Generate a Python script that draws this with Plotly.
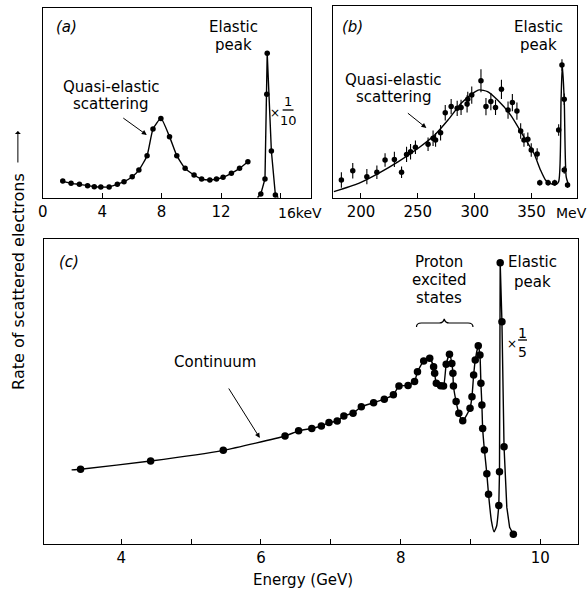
import plotly.graph_objects as go

W, H = 588, 592

# ---------------- data ----------------
# (a) keV
a_x = [1.35, 1.91, 2.47, 3.02, 3.47, 3.91, 4.47, 5.02, 5.47, 6.02, 6.47, 7.02, 7.42, 7.95,
       8.53, 9.02, 9.58, 10.18, 10.69, 11.24, 11.69, 12.13, 12.69, 13.24, 13.8]
a_y = [8.9, 7.7, 7.2, 6.5, 5.9, 5.8, 5.8, 7.2, 8.6, 11.2, 14.7, 22.3, 36.3, 41.9,
       32.3, 22.3, 15.6, 12.1, 10.0, 9.5, 10.0, 10.9, 13.0, 15.6, 19.1]
a_el_x = [14.67, 14.95, 15.07, 15.1, 15.38, 15.65]
a_el_y = [2.1, 10.0, 54.6, 76.2, 24.7, 1.6]
a_el_line_x = [14.45, 14.67, 14.95, 15.07, 15.1, 15.38, 15.65, 15.85]
a_el_line_y = [0.3, 2.1, 10.0, 54.6, 76.2, 24.7, 1.6, 0.3]

# (b) MeV
b_x = [182.8, 192.8, 205.2, 214.0, 221.2, 229.4, 235.7, 240.1, 243.6, 247.9, 259.0, 263.4,
       265.6, 270.0, 274.1, 279.3, 284.6, 288.0, 293.3, 293.9, 297.4, 305.5, 309.9, 314.2,
       318.3, 323.5, 329.3, 333.1, 337.1, 340.4, 343.3, 346.7, 349.7, 354.9, 357.2, 364.5,
       370.3, 373.8, 376.7, 378.7, 378.7, 381.6]
b_y = [9.4, 14.2, 11.1, 13.4, 19.8, 20.1, 13.4, 22.7, 24.1, 26.4, 28.0, 31.1,
       30.2, 34.0, 44.4, 47.6, 46.7, 47.2, 49.0, 51.4, 53.6, 61.1, 47.6, 50.2,
       47.2, 56.6, 45.8, 49.7, 45.3, 34.9, 30.2, 30.6, 25.0, 22.9, 8.0, 8.0,
       8.0, 35.4, 69.3, 51.4, 14.6, 6.8]
b_err = [4, 4, 4, 3.5, 3.5, 4, 3, 4, 4, 3.5, 3.5, 4,
         3.5, 4, 4, 4, 4, 4, 4.5, 4, 4.5, 6, 4.5, 4.5,
         4, 5, 4.5, 4.5, 4.5, 4, 3.5, 3.5, 3.5, 3, 1.5, 1.5,
         1.5, 3, 3, 3, 2, 1.5]
b_fit_x = [176.2, 198.0, 215.4, 232.9, 250.3, 264.8, 276.5, 288.1, 298.3, 304.0, 311.3,
           320.1, 331.6, 343.2, 352.0, 357.8, 362.2, 366.5, 370.9, 373.8, 375.9, 377.0,
           378.7, 380.4, 382.5]
b_fit_y = [3.3, 7.6, 12.8, 18.9, 25.9, 32.8, 40.6, 49.3, 54.5, 56.3, 55.4,
           51.0, 43.2, 31.9, 23.3, 14.6, 9.4, 7.6, 6.8, 8.5, 51.0, 69.3,
           51.0, 11.1, 6.8]

# (c) GeV
c_x = [3.418, 4.421, 5.461, 6.345, 6.539, 6.728, 6.865, 6.974, 7.092, 7.187, 7.319, 7.437,
       7.613, 7.766, 7.896, 7.976, 8.106, 8.199, 8.241, 8.330, 8.416, 8.472, 8.487, 8.511,
       8.572, 8.614, 8.652, 8.699, 8.733, 8.748, 8.756, 8.794, 8.833, 8.889, 8.993, 9.021,
       9.045, 9.068, 9.111, 9.135, 9.149, 9.163, 9.174, 9.199, 9.234, 9.258,
       9.405, 9.415, 9.425, 9.450, 9.480, 9.613]
c_y = [24.5, 27.2, 30.7, 35.4, 37.1, 37.9, 38.7, 39.8, 40.3, 42.0, 42.9, 45.0,
       46.3, 47.5, 48.9, 51.8, 52.0, 53.3, 56.5, 60.0, 60.9, 58.1, 56.0, 52.7,
       51.9, 51.8, 58.9, 62.2, 59.2, 56.0, 51.8, 46.7, 42.9, 40.4, 44.5, 48.3,
       55.4, 60.3, 65.0, 62.0, 52.7, 45.6, 37.9, 30.8, 23.0, 16.3,
       12.6, 23.7, 92.2, 72.9, 31.9, 3.2]
# fitted curve of (c): smooth part up to the dip, then the sharp elastic peak
c_fit1_x = [3.29] + c_x[:46] + [9.30, 9.338, 9.375, 9.405]
c_fit1_y = [24.3] + c_y[:46] + [7.5, 4.0, 6.0, 12.6]
c_fit2_x = [9.405, 9.415, 9.425, 9.450, 9.480, 9.52, 9.56, 9.613]
c_fit2_y = [12.6, 23.7, 92.2, 72.9, 31.9, 12.0, 5.5, 3.2]

a_ticks = [0, 4, 8, 12, 16]
a_ticktext = ["0", "4", "8", "12", ""]
b_ticks = [200, 250, 300, 350]
b_ticktext = ["200", "250", "300", "350"]
c_ticks = [4, 5, 6, 7, 8, 9, 10]
c_ticktext = ["4", "", "6", "", "8", "", "10"]

# ---------------- helpers ----------------
def PX(x):
    return x / W

def PY(y):
    return 1 - y / H

FONT = "DejaVu Sans"
BLACK = "black"
FS = 15

fig = go.Figure()

# (a)
fig.add_trace(go.Scatter(x=a_x, y=a_y, mode="lines", line=dict(color=BLACK, width=1.4, shape="spline", smoothing=0.5),
                         xaxis="x", yaxis="y", hoverinfo="skip"))
fig.add_trace(go.Scatter(x=a_el_line_x, y=a_el_line_y, mode="lines", line=dict(color=BLACK, width=1.4),
                         xaxis="x", yaxis="y", hoverinfo="skip"))
fig.add_trace(go.Scatter(x=a_x + a_el_x, y=a_y + a_el_y, mode="markers", marker=dict(color=BLACK, size=5.5),
                         xaxis="x", yaxis="y"))
# (b)
fig.add_trace(go.Scatter(x=b_fit_x, y=b_fit_y, mode="lines", line=dict(color=BLACK, width=1.4, shape="spline", smoothing=0.6),
                         xaxis="x2", yaxis="y2", hoverinfo="skip"))
fig.add_trace(go.Scatter(x=b_x, y=b_y, mode="markers", marker=dict(color=BLACK, size=5.5),
                         error_y=dict(type="data", array=b_err, visible=True, color=BLACK, thickness=1.1, width=0),
                         xaxis="x2", yaxis="y2"))
# (c)
fig.add_trace(go.Scatter(x=c_fit1_x, y=c_fit1_y, mode="lines", line=dict(color=BLACK, width=1.4, shape="spline", smoothing=0.5),
                         xaxis="x3", yaxis="y3", hoverinfo="skip"))
fig.add_trace(go.Scatter(x=c_fit2_x, y=c_fit2_y, mode="lines", line=dict(color=BLACK, width=1.4),
                         xaxis="x3", yaxis="y3", hoverinfo="skip"))
fig.add_trace(go.Scatter(x=c_x, y=c_y, mode="markers", marker=dict(color=BLACK, size=7.5),
                         xaxis="x3", yaxis="y3"))

axis_common = dict(showline=True, linecolor=BLACK, linewidth=1.4, mirror=True, showgrid=False, zeroline=False)
xcommon = dict(axis_common, ticks="inside", ticklen=5, tickcolor=BLACK, tickwidth=1,
               tickfont=dict(family=FONT, size=FS, color=BLACK), tickmode="array")
ycommon = dict(axis_common, showticklabels=False, ticks="", range=[0, 100])

fig.update_layout(
    width=W, height=H, margin=dict(l=0, r=0, t=0, b=0),
    paper_bgcolor="white", plot_bgcolor="white", showlegend=False,
    font=dict(family=FONT, size=FS, color=BLACK),
    xaxis=dict(xcommon, domain=[PX(38), PX(309)], range=[0, 18.07], tickvals=a_ticks, ticktext=a_ticktext, anchor="y"),
    yaxis=dict(ycommon, domain=[PY(198), PY(8)], anchor="x"),
    xaxis2=dict(xcommon, domain=[PX(331), PX(577)], range=[175.6, 390], tickvals=b_ticks, ticktext=b_ticktext, anchor="y2"),
    yaxis2=dict(ycommon, domain=[PY(198), PY(6)], anchor="x2"),
    xaxis3=dict(xcommon, domain=[PX(39), PX(578)], range=[2.89, 10.54], tickvals=c_ticks, ticktext=c_ticktext, anchor="y3"),
    yaxis3=dict(ycommon, domain=[PY(544), PY(239)], anchor="x3"),
)

def txt(x, y, s, size=FS, italic=False, angle=0, xanchor="center", h=None):
    fig.add_annotation(x=PX(x), y=PY(y), xref="paper", yref="paper", text=s, showarrow=False,
                       font=dict(family=FONT, size=size, color=BLACK, style="italic" if italic else "normal"),
                       textangle=angle, xanchor=xanchor, yanchor="middle", height=h, borderpad=0)

def arrow(x0, y0, x1, y1, head=2):
    fig.add_annotation(x=PX(x1), y=PY(y1), xref="paper", yref="paper", ax=x0 - x1, ay=y0 - y1,
                       text="", showarrow=True, arrowhead=head, arrowsize=1, arrowwidth=1, arrowcolor=BLACK)

def hline(x0, x1, y):
    fig.add_shape(type="line", xref="paper", yref="paper", x0=PX(x0), x1=PX(x1), y0=PY(y), y1=PY(y),
                  line=dict(color=BLACK, width=1.3))

# panel (a) texts
txt(62, 27, "(a)", italic=True)
txt(230, 26, "Elastic", h=17)
txt(230, 44, "peak", h=17)
txt(107, 86, "Quasi-elastic", h=17)
txt(107, 104, "scattering", h=17)
arrow(118, 117, 143, 135)
txt(272.5, 113, "×", size=12, h=12)
txt(285.5, 101, "1", size=13, h=15)
hline(280, 291, 110)
txt(285.5, 120, "10", size=13, h=15)
txt(274, 213, "16keV", size=14, xanchor="left")

# panel (b) texts
txt(350, 27, "(b)", italic=True)
txt(538, 26, "Elastic", h=17)
txt(538, 44, "peak", h=17)
txt(392, 79, "Quasi-elastic", h=17)
txt(392, 97, "scattering", h=17)
arrow(405, 112, 425, 128)
txt(571, 213, "MeV", size=14)

# panel (c) texts
txt(65, 262, "(c)", italic=True)
txt(212, 362, "Continuum")
arrow(225, 387, 257, 438)
txt(438, 261, "Proton", h=17)
txt(438, 279, "excited", h=17)
txt(438, 297, "states", h=17)
txt(532, 262, "Elastic", h=18)
txt(532, 282, "peak", h=18)
txt(511.5, 344, "×", size=12, h=12)
txt(522, 332, "1", size=14, h=15)
hline(517.5, 526.5, 340)
txt(522, 351, "5", size=14, h=15)

# brace over the proton excited states
path = "M {},{} Q {},{} {},{} L {},{} Q {},{} {},{} Q {},{} {},{} L {},{} Q {},{} {},{}".format(
    PX(415), PY(327), PX(415), PY(323), PX(420), PY(323),
    PX(438), PY(323),
    PX(442), PY(323), PX(443), PY(319),
    PX(444), PY(323), PX(448), PY(323),
    PX(467), PY(323),
    PX(472), PY(323), PX(472), PY(327))
fig.add_shape(type="path", xref="paper", yref="paper", path=path, line=dict(color=BLACK, width=1.2))

# axis titles
txt(301, 580, "Energy (GeV)")
txt(13, 281, "Rate of scattered electrons", size=16, angle=-90)
arrow(13, 164, 13, 131, head=1)

fig.write_html("out.html", config={"displayModeBar": False},
               post_script="document.body.style.margin='0';document.body.style.overflow='hidden';")
